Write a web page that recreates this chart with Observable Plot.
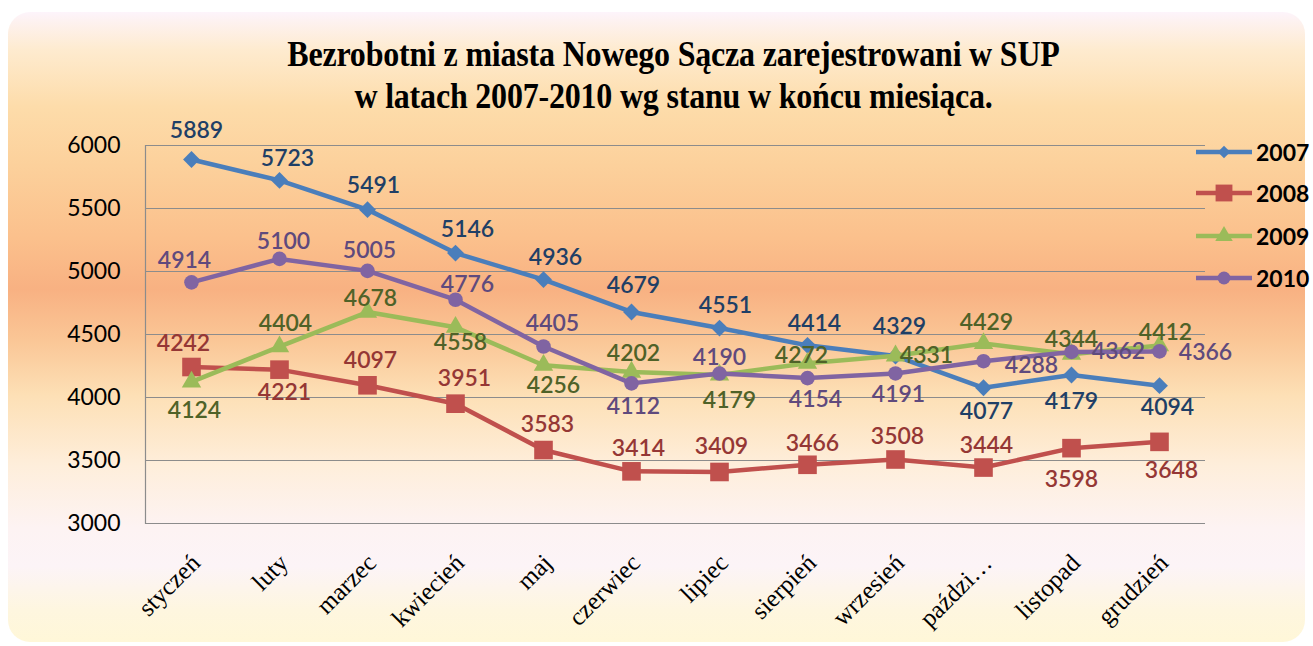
<!DOCTYPE html>
<html>
<head>
<meta charset="utf-8">
<script src="https://cdn.jsdelivr.net/npm/d3@7"></script>
<script src="https://cdn.jsdelivr.net/npm/@observablehq/plot@0.6"></script>
<style>
  html, body { margin: 0; padding: 0; background: #ffffff; }
  #wrap { position: relative; width: 1313px; height: 646px; overflow: hidden; background: #ffffff; }
  #bg {
    position: absolute; left: 8px; top: 12px; width: 1297px; height: 630px;
    border-radius: 22px;
    background: linear-gradient(to bottom,
      #fdf4fb 0%, #feebcf 6%, #fddcaa 15%, #fcd19c 24%, #fbc08c 36%,
      #f8b182 44%, #fac696 52%, #fde0b6 61%, #feeedb 72%, #fdf3f3 82%,
      #fcf4f7 88%, #fef6df 95%, #fff7d8 100%);
  }
  #title {
    position: absolute; left: 17px; top: 33px; width: 1313px; text-align: center;
    font-family: "Liberation Serif", "Times New Roman", serif; font-weight: bold;
    font-size: 32px; line-height: 38px; color: #000; letter-spacing: -0.2px;
    transform: scaleY(1.1); transform-origin: 50% 0;
  }
  #chart { position: absolute; left: 0; top: 0; }
  #legend { position: absolute; left: 1196px; top: 0; }
  .li { position: absolute; left: 0; height: 24px; display: flex; align-items: center; white-space: nowrap; }
  .li span { font-family: Lato, "Open Sans", sans-serif; font-weight: bold; font-size: 23px; color: #000; margin-left: 4px; }
</style>
</head>
<body>
<div id="wrap">
  <div id="bg"></div>
  <div id="title">Bezrobotni z miasta Nowego Sącza zarejestrowani w SUP<br>w latach 2007-2010 wg stanu w końcu miesiąca.</div>
  <div id="chart"></div>
  <div id="legend"></div>
</div>
<script>
// ---- data ----
const months = ["styczeń","luty","marzec","kwiecień","maj","czerwiec","lipiec","sierpień","wrzesień","październik","listopad","grudzień"];
const tickLabels = ["styczeń","luty","marzec","kwiecień","maj","czerwiec","lipiec","sierpień","wrzesień","paździ…","listopad","grudzień"];
const years = ["2007","2008","2009","2010"];
const values2007 = [5889,5723,5491,5146,4936,4679,4551,4414,4329,4077,4179,4094];
const values2008 = [4242,4221,4097,3951,3583,3414,3409,3466,3508,3444,3598,3648];
const values2009 = [4124,4404,4678,4558,4256,4202,4179,4272,4331,4429,4344,4412];
const values2010 = [4914,5100,5005,4776,4405,4112,4190,4154,4191,4288,4362,4366];
const yTicks = [3000,3500,4000,4500,5000,5500,6000];

// ---- label placement (offsets from each point) ----
const offsets2007 = [[5,-29],[8,-22],[6,-24],[12,-23],[12,-22],[2,-26],[6,-22],[7,-22],[4,-29],[3,24],[0,27],[8,22]];
const offsets2008 = [[-8,-23],[5,23],[3,-25],[9,-25],[4,-25],[7,-23],[2,-25],[5,-21],[2,-23],[3,-22],[0,31],[12,29]];
const offsets2009 = [[3,29],[6,-23],[3,-13],[5,15],[10,20],[2,-18],[10,26],[-6,-8],[31,0],[3,-21],[0,-15],[6,-13]];
const offsets2010 = [[-7,-22],[4,-17],[2,-20],[12,-15],[9,-23],[2,23],[0,-16],[8,22],[3,21],[48,4],[47,0],[46,1]];

// ---- styles ----
const series = [
  {year: "2007", values: values2007, offsets: offsets2007, color: "#4a7ebb", labelColor: "#1f3f66", symbol: "diamond2", r: 7.6, lr: 5.6},
  {year: "2008", values: values2008, offsets: offsets2008, color: "#c0504d", labelColor: "#953735", symbol: "square", r: 10.5, lr: 9.5},
  {year: "2009", values: values2009, offsets: offsets2009, color: "#9bbb59", labelColor: "#4f6228", symbol: "triangle", r: 7.2, lr: 6.5},
  {year: "2010", values: values2010, offsets: offsets2010, color: "#8064a2", labelColor: "#5f4a7d", symbol: "circle", r: 7.3, lr: 6.5}
];

const rows = series.flatMap(s => s.values.map((v, i) => ({year: s.year, month: months[i], value: v})));

const labelFont = "Lato, 'Open Sans', sans-serif";
const marks = [
  Plot.ruleY(yTicks, {stroke: "#8c8c8c", strokeWidth: 1.2}),
  Plot.frame({anchor: "left", stroke: "#8c8c8c", strokeWidth: 1.2}),
  Plot.axisY({ticks: yTicks, tickFormat: "d", tickSize: 0, tickPadding: 25, fontSize: 23, fontFamily: labelFont, fill: "#000", label: null}),
  Plot.text(months, {x: (d) => d, text: (d) => tickLabels[months.indexOf(d)], frameAnchor: "bottom", rotate: -45, textAnchor: "end",
    dx: 10, dy: 41, fontSize: 25, fontFamily: "'Liberation Serif', 'Times New Roman', serif", fill: "#000"})
];
for (const s of series) {
  const data = rows.filter(d => d.year === s.year);
  marks.push(Plot.line(data, {x: "month", y: "value", stroke: s.color, strokeWidth: 4.5, strokeLinejoin: "round"}));
  marks.push(Plot.dot(data, {x: "month", y: "value", symbol: () => s.symbol, r: s.r, fill: s.color, stroke: "none"}));
}
for (const s of series) {
  const data = rows.filter(d => d.year === s.year);
  data.forEach((d, i) => {
    marks.push(Plot.text([d], {x: "month", y: "value", text: (t) => String(t.value), dx: s.offsets[i][0], dy: s.offsets[i][1],
      fill: s.labelColor, fontSize: 23, fontWeight: 600, fontFamily: labelFont}));
  });
}

const chart = Plot.plot({
  width: 1313, height: 646,
  marginTop: 145, marginBottom: 123, marginLeft: 145, marginRight: 108,
  style: {background: "transparent", overflow: "visible"},
  x: {type: "point", domain: months, padding: 0.5, axis: null},
  y: {domain: [3000, 6000], axis: null},
  symbol: {type: "identity"},
  marks
});
document.getElementById("chart").appendChild(chart);

// ---- legend ----
const legend = document.getElementById("legend");
const legendTop = [140, 181, 224, 266];
series.forEach((s, i) => {
  const item = document.createElement("div");
  item.className = "li";
  item.style.top = legendTop[i] + "px";
  const svg = d3.create("svg").attr("width", 56).attr("height", 24);
  svg.append("line").attr("x1", 0).attr("x2", 56).attr("y1", 12).attr("y2", 12).attr("stroke", s.color).attr("stroke-width", 4.5);
  const sym = {diamond2: d3.symbolDiamond2, square: d3.symbolSquare, triangle: d3.symbolTriangle, circle: d3.symbolCircle}[s.symbol];
  svg.append("path").attr("transform", "translate(28,12)").attr("d", d3.symbol(sym, Math.PI * s.lr * s.lr)()).attr("fill", s.color);
  item.appendChild(svg.node());
  const sp = document.createElement("span");
  sp.textContent = s.year;
  item.appendChild(sp);
  legend.appendChild(item);
});
</script>
</body>
</html>
